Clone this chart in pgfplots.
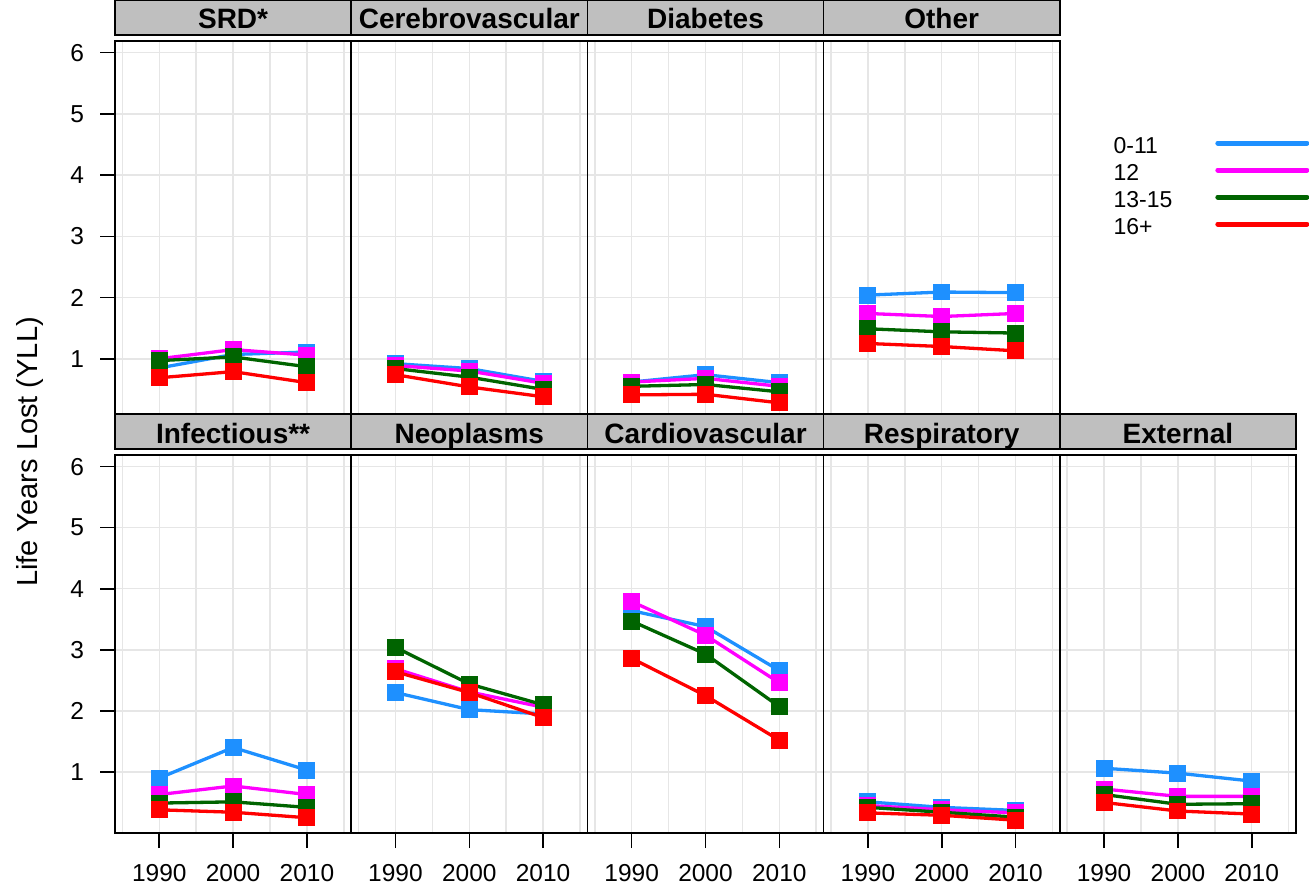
\documentclass[border=0pt]{standalone}
\usepackage{pgfplots}
\pgfplotsset{compat=1.18}
\usepackage{pgfplotstable}
\usepackage{fontspec}
\setmainfont{Liberation Sans}
\definecolor{cA}{HTML}{1E90FF}
\definecolor{cB}{HTML}{FF00FF}
\definecolor{cC}{HTML}{006400}
\definecolor{cD}{HTML}{FF0000}
\definecolor{stripc}{HTML}{BFBFBF}
\definecolor{gridc}{HTML}{E6E6E6}
\newcommand{\tf}{\fontsize{24.5}{28}\selectfont}

\pgfplotstableread{
year a b c d
1990 0.85 1.00 0.97 0.69
2000 1.07 1.15 1.03 0.79
2010 1.11 1.06 0.87 0.61
}\tSRD
\pgfplotstableread{
year a b c d
1990 0.92 0.89 0.84 0.74
2000 0.84 0.80 0.70 0.54
2010 0.63 0.60 0.50 0.38
}\tCer
\pgfplotstableread{
year a b c d
1990 0.62 0.62 0.55 0.41
2000 0.74 0.68 0.58 0.42
2010 0.61 0.55 0.46 0.28
}\tDia
\pgfplotstableread{
year a b c d
1990 2.04 1.74 1.49 1.25
2000 2.09 1.69 1.44 1.20
2010 2.08 1.74 1.42 1.13
}\tOth
\pgfplotstableread{
year a b c d
1990 0.90 0.63 0.49 0.38
2000 1.40 0.77 0.51 0.34
2010 1.03 0.63 0.42 0.25
}\tInf
\pgfplotstableread{
year a b c d
1990 2.30 2.69 3.04 2.64
2000 2.02 2.31 2.44 2.30
2010 1.95 2.06 2.10 1.89
}\tNeo
\pgfplotstableread{
year a b c d
1990 3.64 3.79 3.47 2.86
2000 3.38 3.24 2.93 2.25
2010 2.66 2.46 2.07 1.52
}\tCar
\pgfplotstableread{
year a b c d
1990 0.51 0.45 0.42 0.33
2000 0.42 0.38 0.34 0.29
2010 0.37 0.33 0.26 0.21
}\tRes
\pgfplotstableread{
year a b c d
1990 1.06 0.72 0.63 0.50
2000 0.98 0.60 0.47 0.36
2010 0.85 0.60 0.48 0.31
}\tExt

\pgfplotsset{
  panel/.style={
    scale only axis, width=236.2pt, anchor=north west,
    xmin=1984, xmax=2016, ymin=0, ymax=6.19,
    xtick={1990,2000,2010}, minor xtick={1985,1995,2005,2015},
    ytick={1,2,3,4,5,6},
    xticklabels={\tf 1990,\tf 2000,\tf 2010},
    yticklabels={\tf 1,\tf 2,\tf 3,\tf 4,\tf 5,\tf 6},
    grid=both,
    major grid style={line width=1.5pt, color=gridc},
    minor grid style={line width=1.5pt, color=gridc},
    minor tick length=0pt, major tick length=15pt, tick align=outside,
    tick pos=left,
    axis line style={line width=1.6pt},
    tick style={line width=1.6pt, black},
    every tick label/.append style={inner sep=0pt, outer sep=0pt},
    xticklabel style={anchor=north, yshift=-16pt},
    yticklabel style={anchor=east, xshift=-16pt},
    title style={at={(0.5,1)}, anchor=south, draw=black, line width=1.6pt,
      fill=stripc, minimum width=236.2pt, minimum height=35pt, inner sep=0pt,
      outer sep=0pt, text height=23pt, text depth=0pt,
      font=\bfseries\fontsize{28}{30}\selectfont},
    cycle list={
      {cA, line width=3.3pt, mark=square*, mark size=6.8pt, mark options={solid, draw=none, fill=cA}},
      {cB, line width=3.3pt, mark=square*, mark size=6.8pt, mark options={solid, draw=none, fill=cB}},
      {cC, line width=3.3pt, mark=square*, mark size=6.8pt, mark options={solid, draw=none, fill=cC}},
      {cD, line width=3.3pt, mark=square*, mark size=6.8pt, mark options={solid, draw=none, fill=cD}}
    },
  },
  toprow/.style={height=379pt, xticklabels={}, xtick style={draw=none}},
  botrow/.style={height=378pt},
  inner/.style={yticklabels={}, ytick style={draw=none}},
}
\newcommand{\four}[1]{%
  \addplot table[x=year,y=a]{#1};
  \addplot table[x=year,y=b]{#1};
  \addplot table[x=year,y=c]{#1};
  \addplot table[x=year,y=d]{#1};
}

\begin{document}
\begin{tikzpicture}
\path[use as bounding box] (0pt,0pt) rectangle (1309pt,-890pt);

\begin{axis}[panel, toprow, at={(115pt,-41pt)}, title={SRD*}]
\four{\tSRD}
\end{axis}
\begin{axis}[panel, toprow, inner, at={(351.2pt,-41pt)}, title={Cerebrovascular}]
\four{\tCer}
\end{axis}
\begin{axis}[panel, toprow, inner, at={(587.4pt,-41pt)}, title={Diabetes}]
\four{\tDia}
\end{axis}
\begin{axis}[panel, toprow, inner, at={(823.6pt,-41pt)}, title={Other},
  legend plot pos=right, legend cell align=left,
  legend image code/.code={\path (0pt,0pt); \draw[#1, line width=5pt, line cap=round] (43.7pt,2pt) -- (132.7pt,2pt);},
  legend style={draw=none, fill=none, at={(1.228,0.748)}, anchor=north west,
    inner sep=0pt, outer sep=0pt, row sep=10pt,
    font=\fontsize{23}{27}\selectfont,
    nodes={inner sep=0pt, text height=17pt, text depth=0pt}}]
\four{\tOth}
\legend{0-11,12,13-15,16+}
\end{axis}

\begin{axis}[panel, botrow, at={(115pt,-455pt)}, title={Infectious**}]
\four{\tInf}
\end{axis}
\begin{axis}[panel, botrow, inner, at={(351.2pt,-455pt)}, title={Neoplasms}]
\four{\tNeo}
\end{axis}
\begin{axis}[panel, botrow, inner, at={(587.4pt,-455pt)}, title={Cardiovascular}]
\four{\tCar}
\end{axis}
\begin{axis}[panel, botrow, inner, at={(823.6pt,-455pt)}, title={Respiratory}]
\four{\tRes}
\end{axis}
\begin{axis}[panel, botrow, inner, at={(1059.8pt,-455pt)}, title={External}]
\four{\tExt}
\end{axis}

\node[rotate=90, font=\fontsize{29}{32}\selectfont] at (30pt,-452pt) {Life Years Lost (YLL)};
\end{tikzpicture}
\end{document}
